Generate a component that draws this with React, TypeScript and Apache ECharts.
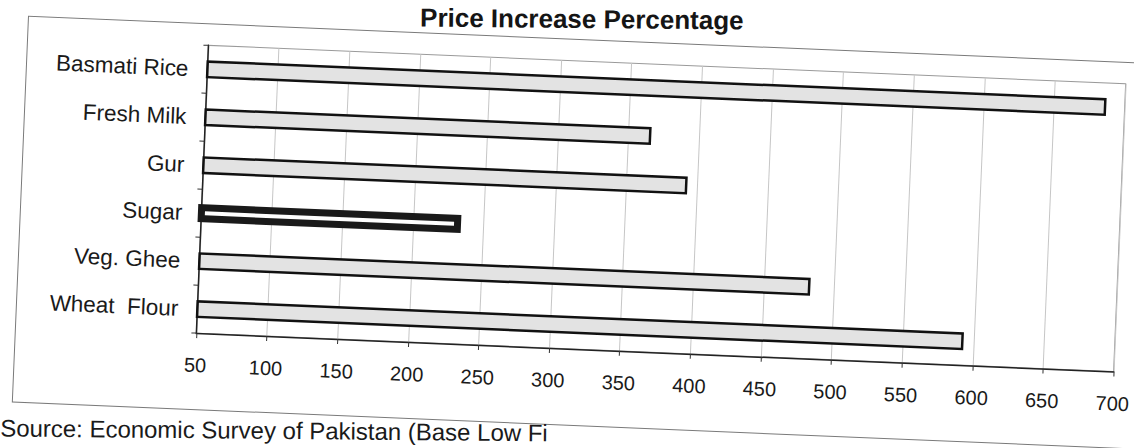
import React, { useEffect, useRef } from "react";
import * as echarts from "echarts";

// ---- data ----
const categories = ["Basmati Rice", "Fresh Milk", "Gur", "Sugar", "Veg. Ghee", "Wheat  Flour"];
const priceIncrease = [687, 366, 393, 234, 483, 593];
const highlightedCategory = "Sugar";
const axisMin = 50;
const axisMax = 700;
const axisStep = 50;
const titleText = "Price Increase Percentage";
const sourceText = "Source: Economic Survey of Pakistan (Base Low Fi";

const FONT = "'Liberation Sans', Arial, sans-serif";

export default function App() {
  const ref = useRef<HTMLDivElement>(null);

  useEffect(() => {
    if (!ref.current) return;
    const chart = echarts.init(ref.current, null, { renderer: "svg" });
    chart.setOption({
      animation: false,
      backgroundColor: "#ffffff",
      grid: {
        left: 202,
        top: 64.5,
        width: 918,
        height: 288,
        show: true,
        borderColor: "#9a9a9a",
        borderWidth: 1,
        containLabel: false,
        outerBoundsMode: "none",
      },
      xAxis: {
        type: "value",
        min: axisMin,
        max: axisMax,
        interval: axisStep,
        axisLine: { show: true, lineStyle: { color: "#222", width: 1.5 } },
        axisTick: { show: true, length: 5, lineStyle: { color: "#333", width: 1 } },
        axisLabel: { fontSize: 20, margin: 22, color: "#1a1a1a", fontFamily: FONT },
        splitLine: { show: true, lineStyle: { color: "#c6c6c6", width: 1 } },
      },
      yAxis: {
        type: "category",
        data: categories,
        inverse: true,
        axisLine: { show: true, lineStyle: { color: "#222", width: 1.5 } },
        axisTick: { show: true, length: 5, lineStyle: { color: "#333", width: 1 } },
        axisLabel: { fontSize: 22.5, margin: 19, color: "#1a1a1a", fontFamily: FONT },
        splitLine: { show: false },
      },
      series: [
        {
          type: "bar",
          barWidth: 18,
          clip: true,
          itemStyle: { color: "#e3e3e3", borderColor: "#111", borderWidth: 2.5 },
          data: categories.map((c, i) =>
            c === highlightedCategory
              ? { value: priceIncrease[i], itemStyle: { color: "#ffffff", borderColor: "#1a1a1a", borderWidth: 7 } }
              : { value: priceIncrease[i] }
          ),
        },
      ],
      graphic: [
        {
          type: "rect",
          silent: true,
          shape: { x: 21, y: 43, width: 1400, height: 386 },
          style: { fill: "none", stroke: "#7a7a7a", lineWidth: 1 },
          z: -1,
        },
        {
          type: "text",
          x: 574,
          y: 22.5,
          rotation: 0.033,
          style: {
            text: titleText,
            font: `bold 26px ${FONT}`,
            fill: "#151515",
            textAlign: "center",
            textVerticalAlign: "middle",
          },
        },
        {
          type: "text",
          x: 10,
          y: 455.5,
          rotation: 0.0332,
          style: {
            text: sourceText,
            font: `24px ${FONT}`,
            fill: "#1a1a1a",
            textAlign: "left",
            textVerticalAlign: "middle",
          },
        },
      ],
    });
    return () => chart.dispose();
  }, []);

  return (
    <div
      style={{
        position: "fixed",
        left: 0,
        top: 0,
        width: 1134,
        height: 448,
        overflow: "hidden",
        background: "#ffffff",
      }}
    >
      <div
        ref={ref}
        style={{
          position: "absolute",
          left: 0,
          top: 0,
          width: 1150,
          height: 500,
          transform: "rotate(2.4deg)",
          transformOrigin: "662px 208.5px",
        }}
      />
    </div>
  );
}
